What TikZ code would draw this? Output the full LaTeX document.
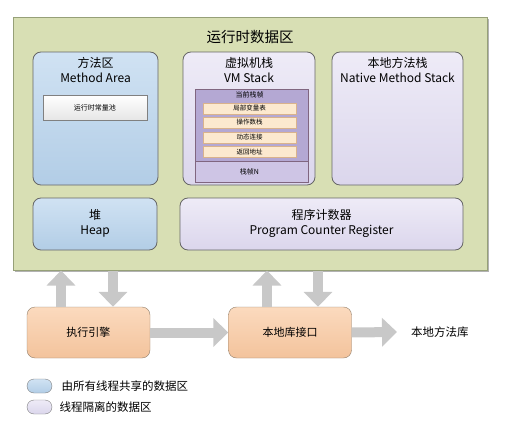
\documentclass[tikz,border=0pt]{standalone}
\usepackage{fontspec}
\setmainfont{Noto Sans CJK SC}
\usetikzlibrary{arrows.meta,positioning}
\definecolor{greenBg}{RGB}{216,223,180}
\definecolor{greenLine}{RGB}{150,160,120}
\definecolor{blueTop}{RGB}{208,226,243}
\definecolor{blueBottom}{RGB}{178,205,230}
\definecolor{purpleTop}{RGB}{238,235,247}
\definecolor{purpleBottom}{RGB}{219,214,236}
\definecolor{vmDark}{RGB}{180,168,211}
\definecolor{vmLight}{RGB}{206,197,229}
\definecolor{rowFill}{RGB}{252,233,207}
\definecolor{orangeTop}{RGB}{251,218,190}
\definecolor{orangeBottom}{RGB}{243,195,156}
\definecolor{arrowGray}{RGB}{200,200,200}

\begin{document}
\begin{tikzpicture}[x=1pt, y=-1pt,
    dataArea/.style={rectangle,draw=greenLine,fill=greenBg,line width=1pt,inner sep=0pt},
    sharedArea/.style={rectangle,rounded corners=8pt,draw=gray!80!black,top color=blueTop,bottom color=blueBottom,inner sep=0pt,line width=0.8pt},
    threadArea/.style={rectangle,rounded corners=8pt,draw=gray!80!black,top color=purpleTop,bottom color=purpleBottom,inner sep=0pt,line width=0.8pt},
    processStep/.style={rectangle,rounded corners=8pt,draw=gray!70!brown,top color=orangeTop,bottom color=orangeBottom,inner sep=0pt,minimum width=123pt,minimum height=51pt,font=\fontsize{11}{13}\selectfont},
    areaTitle/.style={align=center,font=\fontsize{12}{15}\selectfont},
    smallText/.style={font=\fontsize{7}{8}\selectfont},
    frameRow/.style={rectangle,draw=brown!60,fill=rowFill,minimum width=93pt,minimum height=11pt,inner sep=0pt,font=\fontsize{6.5}{8}\selectfont},
    legendPill/.style={rectangle,rounded corners=7pt,draw=gray,minimum width=25pt,minimum height=14pt,inner sep=0pt},
    legendText/.style={anchor=west,font=\fontsize{11.5}{13}\selectfont},
    bigArrow/.style={draw=arrowGray,line width=10pt,-{Triangle[width=28pt,length=15pt]}},
]
	\useasboundingbox (0,0) rectangle (507,431);

	% runtime data area
	\fill[gray!60] (15,19) rectangle (489,272);
	\node[dataArea,minimum width=474pt,minimum height=253pt](rda) at(250,143.5){};
	\node[font=\fontsize{14.5}{16}\selectfont](rdaTitle) at(250,37){运行时数据区};

	\node[sharedArea,minimum width=125pt,minimum height=133pt](ma) at(95.5,118.5){};
	\node[threadArea,minimum width=132pt,minimum height=133pt](vms) at(249,118.5){};
	\node[threadArea,minimum width=131pt,minimum height=133pt](nms) at(397.5,118.5){};
	\node[sharedArea,minimum width=124pt,minimum height=52pt](heap) at(95,224){};
	\node[threadArea,minimum width=283pt,minimum height=52pt](pcr) at(321.5,224){};

	\node[areaTitle](maTitle) at(95.5,70.5){方法区\\Method Area};
	\node[areaTitle](vmsTitle) at(249,70.5){虚拟机栈\\VM Stack};
	\node[areaTitle](nmsTitle) at(397.5,70.5){本地方法栈\\Native Method Stack};
	\node[areaTitle](heapTitle) at(95,223){堆\\Heap};
	\node[areaTitle](pcrTitle) at(321.5,223){程序计数器\\Program Counter Register};

	\node[rectangle,draw=gray,top color=white,bottom color=gray!20,minimum width=104pt,minimum height=25pt,inner sep=0pt,smallText](pool) at(95,107.5){运行时常量池};

	% stack frames
	\node[rectangle,draw=gray!80!violet,fill=vmLight,minimum width=113pt,minimum height=93pt,inner sep=0pt](frames) at(251.5,135.5){};
	\node[rectangle,draw=gray!80!violet,fill=vmDark,minimum width=113pt,minimum height=72pt,inner sep=0pt,anchor=north](curFrame) at(frames.north){};
	\node[smallText](curTitle) at(249.5,95){当前栈帧};
	\node[frameRow](f1) at(249.5,108.5){局部变量表};
	\node[frameRow](f2) at(249.5,122.5){操作数栈};
	\node[frameRow](f3) at(249.5,137.5){动态连接};
	\node[frameRow](f4) at(249.5,152){返回地址};
	\node[smallText](frameN) at(249.5,171.5){栈帧N};

	% execution engine and native interface
	\node[processStep](eng) at(88.5,332.5){执行引擎};
	\node[processStep](nli) at(290,332.5){本地库接口};
	\node[anchor=west,inner sep=0pt,font=\fontsize{11.5}{13}\selectfont](lib) at(411,332){本地方法库};

	\coordinate(engUp) at([xshift=-27.5pt]eng.north);
	\coordinate(engDown) at([xshift=24.5pt]eng.north);
	\coordinate(nliUp) at([xshift=-23pt]nli.north);
	\coordinate(nliDown) at([xshift=28pt]nli.north);

	\draw[bigArrow](engUp)--(engUp |- rda.south);
	\draw[bigArrow](engDown |- rda.south)--(engDown);
	\draw[bigArrow](nliUp)--(nliUp |- rda.south);
	\draw[bigArrow](nliDown |- rda.south)--(nliDown);
	\draw[bigArrow](eng.east)--(nli.west);
	\draw[bigArrow](nli.east)--([xshift=-14pt]lib.west);

	% legend
	\node[legendPill,top color=blueTop,bottom color=blueBottom](legShared) at(39.5,386){};
	\node[legendPill,top color=purpleTop,bottom color=purpleBottom](legThread) at(39.5,407){};
	\node[legendText,right=6pt of legShared](legSharedText){由所有线程共享的数据区};
	\node[legendText,right=4pt of legThread](legThreadText){线程隔离的数据区};

\end{tikzpicture}
\end{document}
